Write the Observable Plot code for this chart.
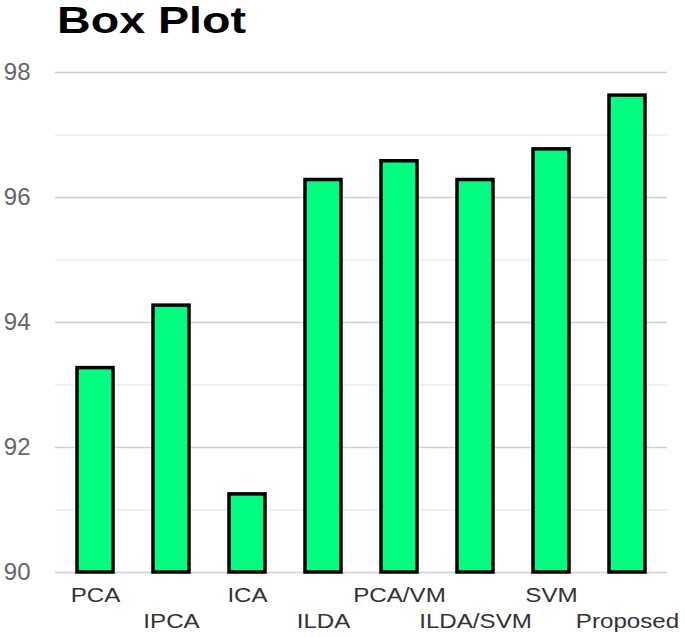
<!DOCTYPE html>
<html>
<head>
<meta charset="utf-8">
<script src="https://cdn.jsdelivr.net/npm/d3@7"></script>
<script src="https://cdn.jsdelivr.net/npm/@observablehq/plot@0.6"></script>
<style>
  body { margin: 0; background: #fff; font-family: "Liberation Sans", Arial, sans-serif; }
  #title { height: 45px; overflow: visible; }
  #title span { display: inline-block; font-size: 37px; line-height: 42px; font-weight: bold; color: #000;
    margin-left: 57px; margin-top: 0px; transform: scaleX(1.26); transform-origin: left center; }
  svg { display: block; }
</style>
</head>
<body>
<div id="title"><span>Box Plot</span></div>
<div id="chart"></div>
<script>
const categories = ["PCA", "IPCA", "ICA", "ILDA", "PCA/VM", "ILDA/SVM", "SVM", "Proposed"];
const values = [93.27, 94.27, 91.25, 96.28, 96.58, 96.28, 96.77, 97.63];
const majorTicks = [90, 92, 94, 96, 98];
const minorTicks = [91, 93, 95, 97];

const data = categories.map((c, i) => ({cat: c, value: values[i], i}));
const row1 = data.filter(d => d.i % 2 === 0);
const row2 = data.filter(d => d.i % 2 === 1);

const chart = Plot.plot({
  width: 685,
  height: 592,
  marginLeft: 55,
  marginRight: 18,
  marginTop: 27,
  marginBottom: 65,
  style: {fontFamily: "'Liberation Sans', Arial, sans-serif", background: "#fff"},
  x: {domain: categories, paddingInner: 0.52, paddingOuter: 0.26, axis: null},
  y: {domain: [90, 98], axis: null},
  marks: [
    Plot.ruleY(minorTicks, {stroke: "#ececec", strokeWidth: 1.5}),
    Plot.ruleY(majorTicks, {stroke: "#d0d0d0", strokeWidth: 1.5}),
    Plot.axisY({ticks: majorTicks, tickSize: 0, tickPadding: 25, fontSize: 24, fill: "#666", label: null}),
    Plot.barY(data, {x: "cat", y1: 90, y2: "value", fill: "#00FF80", stroke: "#000", strokeWidth: 3.5}),
    Plot.text(row1, {x: "cat", y: () => 90, text: "cat", dy: 23, fontSize: 21, fill: "#333", lineAnchor: "middle"}),
    Plot.text(row2, {x: "cat", y: () => 90, text: "cat", dy: 49, fontSize: 21, fill: "#333", lineAnchor: "middle"})
  ]
});
document.getElementById("chart").appendChild(chart);
d3.select(chart).selectAll("text")
  .filter(function() { return categories.includes(this.textContent.trim()); })
  .each(function() {
    const t = this.getAttribute("transform");
    if (t) {
      this.setAttribute("transform", t + " scale(1.15,1)");
    } else {
      const x = +(this.getAttribute("x") || 0);
      this.setAttribute("transform", `translate(${x},0) scale(1.15,1) translate(${-x},0)`);
    }
  });
</script>
</body>
</html>
